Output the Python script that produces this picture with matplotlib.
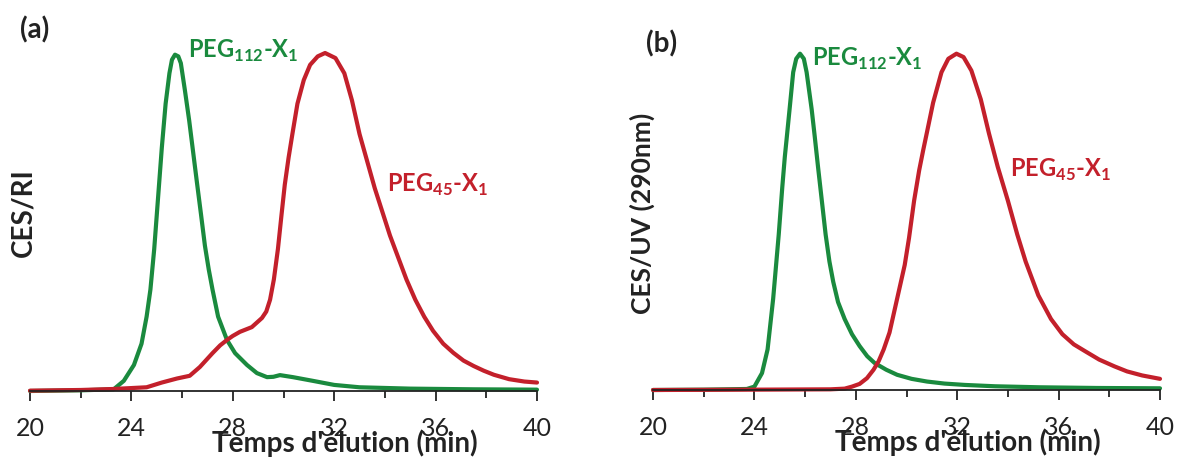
import numpy as np
import matplotlib.pyplot as plt

plt.rcParams['font.family'] = ['Lato', 'DejaVu Sans']
plt.rcParams['mathtext.fontset'] = 'custom'
plt.rcParams['mathtext.rm'] = 'Lato:bold'
plt.rcParams['mathtext.bf'] = 'Lato:bold'

# panel (a) : CES / RI  (temps en min, intensite normalisee)
t_a_green = [20, 22, 23.3, 23.7, 24.1, 24.4, 24.6, 24.75, 24.9, 25.05, 25.2, 25.35, 25.5,
             25.6, 25.72, 25.85, 25.95, 26.11, 26.28, 26.43, 26.58, 26.75, 26.9, 27.05,
             27.2, 27.42, 27.77, 28.09, 28.56, 28.95, 29.35, 29.6, 29.86, 30.37, 31.16,
             32, 33, 35, 37.5, 40]
i_a_green = [0.0, 0.002, 0.005, 0.03, 0.077, 0.14, 0.22, 0.30, 0.42, 0.57, 0.72, 0.85, 0.94,
             0.98, 0.995, 0.99, 0.97, 0.89, 0.80, 0.71, 0.62, 0.52, 0.43, 0.36,
             0.30, 0.22, 0.151, 0.112, 0.077, 0.053, 0.041, 0.042, 0.047, 0.041, 0.03,
             0.018, 0.011, 0.007, 0.005, 0.004]

t_a_red = [20, 22, 23.3, 24.6, 25.2, 25.8, 26.3, 26.7, 27.2, 27.5, 27.77, 28.0, 28.28,
           28.75, 29.15, 29.32, 29.47, 29.62, 29.78, 29.92, 30.05, 30.2, 30.35, 30.55, 30.8,
           31.05, 31.35, 31.64, 32.05, 32.4, 32.7, 33.0, 33.3, 33.6, 33.9, 34.2, 34.5,
           34.85, 35.2, 35.55, 35.9, 36.3, 36.7, 37.1, 37.5, 37.9, 38.3, 38.9, 39.5, 40]
i_a_red = [0.001, 0.003, 0.006, 0.011, 0.025, 0.037, 0.045, 0.071, 0.112, 0.135, 0.151, 0.163, 0.175,
           0.189, 0.216, 0.235, 0.27, 0.33, 0.42, 0.52, 0.61, 0.69, 0.76, 0.85, 0.92,
           0.965, 0.99, 1.0, 0.985, 0.94, 0.86, 0.76, 0.68, 0.60, 0.53, 0.46, 0.40,
           0.33, 0.27, 0.22, 0.178, 0.14, 0.113, 0.09, 0.074, 0.06, 0.048, 0.035, 0.028, 0.025]

# panel (b) : CES / UV 290 nm
t_b_green = [20, 22, 23.7, 24.0, 24.3, 24.52, 24.74, 24.96, 25.1, 25.2, 25.27, 25.4, 25.53,
             25.65, 25.8, 25.95, 26.06, 26.26, 26.38, 26.51, 26.66, 26.81, 26.96, 27.11,
             27.3, 27.56, 27.85, 28.15, 28.45, 28.74, 29.2, 29.63, 30.2, 30.81, 31.5, 32.3,
             33.5, 35.26, 37.5, 40]
i_b_green = [0.0, 0.001, 0.003, 0.01, 0.05, 0.12, 0.27, 0.46, 0.60, 0.69, 0.742, 0.84, 0.94,
             0.98, 0.995, 0.98, 0.94, 0.83, 0.75, 0.66, 0.56, 0.46, 0.38, 0.32,
             0.26, 0.21, 0.165, 0.13, 0.10, 0.08, 0.06, 0.045, 0.033, 0.025, 0.019, 0.015,
             0.011, 0.008, 0.006, 0.005]

t_b_red = [20, 24, 27.0, 27.56, 27.85, 28.15, 28.44, 28.7, 28.9, 29.1, 29.33, 29.48, 29.63,
           29.78, 29.93, 30.1, 30.3, 30.5, 30.66, 30.8, 31.05, 31.38, 31.65, 31.97, 32.25,
           32.56, 32.93, 33.25, 33.6, 34.0, 34.37, 34.7, 35.2, 35.7, 36.15, 36.6, 37.04,
           37.6, 38.2, 38.7, 39.3, 40]
i_b_red = [0.0, 0.001, 0.002, 0.004, 0.01, 0.018, 0.035, 0.06, 0.085, 0.12, 0.17, 0.22, 0.27,
           0.32, 0.37, 0.45, 0.56, 0.65, 0.71, 0.76, 0.85, 0.94, 0.98, 0.995, 0.985,
           0.945, 0.86, 0.76, 0.66, 0.56, 0.46, 0.38, 0.28, 0.21, 0.165, 0.135, 0.115,
           0.09, 0.07, 0.055, 0.043, 0.033]

green = '#1a8a3e'
red = '#c3202b'
dark = '#222222'

fig = plt.figure(figsize=(11.77, 4.59), dpi=100)
ax_a = fig.add_axes([30/1177, 68/459, 507/1177, 338/459])
ax_b = fig.add_axes([653/1177, 69/459, 507/1177, 338/459])


def style(ax):
    for s in ['top', 'right', 'left']:
        ax.spines[s].set_visible(False)
    ax.spines['bottom'].set_linewidth(1.3)
    ax.spines['bottom'].set_color(dark)
    ax.set_xlim(20, 40)
    ax.set_ylim(0, 1)
    ax.set_yticks([])
    ax.set_xticks(np.arange(20, 41, 4))
    ax.set_xticks(np.arange(22, 40, 4), minor=True)
    ax.tick_params(axis='x', which='major', length=7, width=1.3, pad=12,
                   labelsize=18, colors=dark)
    ax.tick_params(axis='x', which='minor', length=5, width=1.3, colors=dark)
    ax.set_xlabel("Temps d'élution (min)", fontsize=20, fontweight='bold', color=dark)
    ax.xaxis.set_label_coords(0.62, -0.115)
    ax.patch.set_alpha(0)


for ax, tg, ig, tr, ir in [(ax_a, t_a_green, i_a_green, t_a_red, i_a_red),
                           (ax_b, t_b_green, i_b_green, t_b_red, i_b_red)]:
    style(ax)
    ax.plot(tg, ig, color=green, lw=3, clip_on=False, solid_joinstyle='round',
            solid_capstyle='round')
    ax.plot(tr, ir, color=red, lw=3, clip_on=False, solid_joinstyle='round',
            solid_capstyle='round')

lbl = dict(fontsize=17, fontweight='bold', ha='left', va='baseline')
ax_a.text(26.23, 0.985, r'PEG$_{112}$-X$_{1}$', color=green, **lbl)
ax_a.text(34.1, 0.59, r'PEG$_{45}$-X$_{1}$', color=red, **lbl)
ax_b.text(26.27, 0.96, r'PEG$_{112}$-X$_{1}$', color=green, **lbl)
ax_b.text(34.08, 0.632, r'PEG$_{45}$-X$_{1}$', color=red, **lbl)

fig.text(23/1177, 1 - 213/459, 'CES/RI', rotation=90, ha='center', va='center',
         fontsize=20, fontweight='bold', color=dark)
fig.text(642/1177, 1 - 213/459, 'CES/UV (290nm)', rotation=90, ha='center', va='center',
         fontsize=19, fontweight='bold', color=dark)
fig.text(35/1177, 1 - 30/459, '(a)', ha='center', va='center',
         fontsize=20, fontweight='bold', color=dark)
fig.text(662/1177, 1 - 44/459, '(b)', ha='center', va='center',
         fontsize=20, fontweight='bold', color=dark)

fig.savefig('out.png', dpi=100)
